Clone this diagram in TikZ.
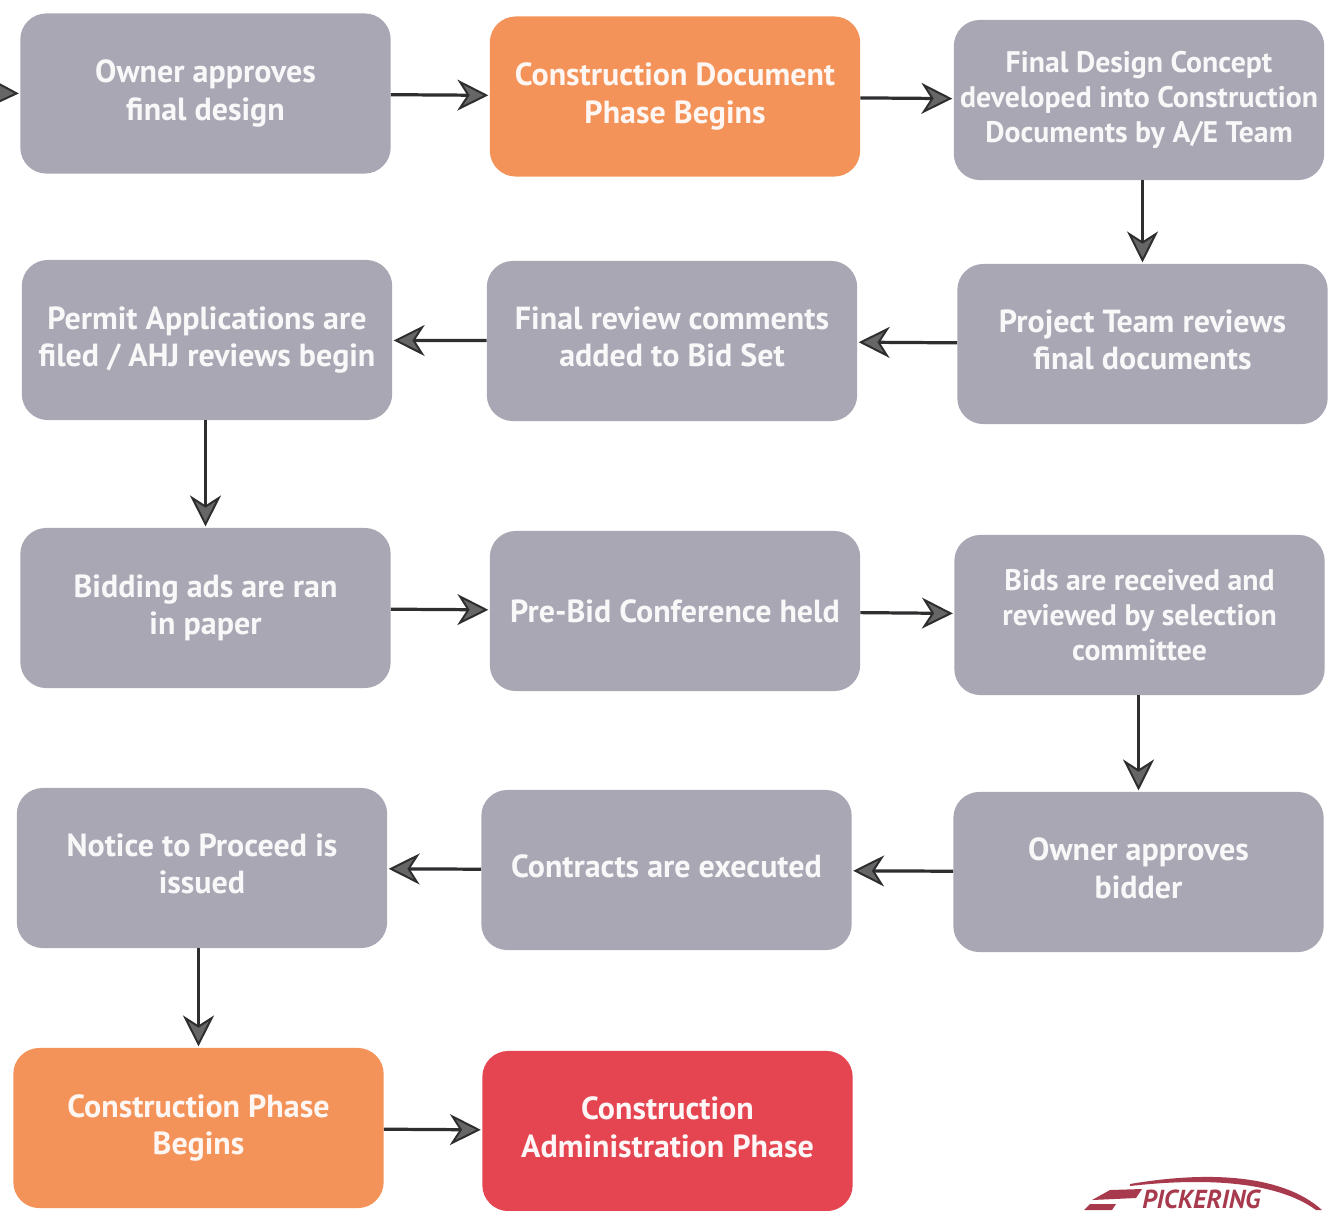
\documentclass[tikz,border=0pt]{standalone}
\usepackage{fontspec}
\setmainfont{PT Sans}
\usetikzlibrary{arrows.meta}
\definecolor{g}{HTML}{A9A7B4}
\definecolor{o}{HTML}{F49359}
\definecolor{r}{HTML}{E44551}
\definecolor{l}{HTML}{A83A4E}
\definecolor{a}{HTML}{2E2E30}
\tikzset{g/.style={fill=g,rectangle,rounded corners=21pt,minimum width=10.5cm,minimum height=4.54cm,inner sep=0pt,
    text=white!92!g,align=center,font=\fontsize{25.8}{30}\selectfont\bfseries},
  g3/.style={g,font=\fontsize{24}{28.4}\selectfont\bfseries},
  o/.style={g,fill=o,text=white!92!o},
  r/.style={g,fill=r,text=white!95!r},
  lift/.style={execute at end node={\rule[-6.5pt]{0pt}{1pt}}},
  to/.style={draw=a,line width=2.6pt,-{Stealth[length=25pt,width=25pt,inset=8pt,fill=gray!80!black,line width=1.6pt]},shorten >=1pt}}

\begin{document}
\begin{tikzpicture}[x=0.02835cm,y=-0.02835cm]
    \clip (0,0) rectangle (1330,1210);
    \useasboundingbox (0,0) rectangle (1330,1210);
    \fill[white] (0,0) rectangle (1330,1210);

    \coordinate (start) at (-30,92);
    \node[g] (approve) at (205.5,93.5) {Owner approves\\final design};
    \node[o] (docphase) at (675,96.5) {Construction Document\\Phase Begins};
    \node[g3] (concept) at (1139,100) {Final Design Concept\\developed into Construction\\Documents by A/E Team};

    \node[g] (permit) at (207,340) {Permit Applications are\\filed / AHJ reviews begin};
    \node[g,lift] (comments) at (672,341) {Final review comments\\added to Bid Set};
    \node[g,lift] (review) at (1142.5,344) {Project Team reviews\\final documents};

    \node[g] (ads) at (205.5,608) {Bidding ads are ran\\in paper};
    \node[g] (prebid) at (675,611) {Pre-Bid Conference held};
    \node[g3] (bids) at (1139.5,615) {Bids are received and\\reviewed by selection\\committee};

    \node[g,lift] (notice) at (202,868) {Notice to Proceed is\\issued};
    \node[g,lift] (contracts) at (666.5,870) {Contracts are executed};
    \node[g,lift] (bidder) at (1138.5,872) {Owner approves\\bidder};

    \node[o] (conphase) at (198.5,1128) {Construction Phase\\Begins};
    \node[r,lift] (admin) at (667.5,1131) {Construction\\Administration Phase};

    \draw[to] (start) -- (approve.west);
    \draw[to] (approve) -- (docphase);
    \draw[to] (docphase) -- (concept);
    \draw[to] (concept.south -| review.north) -- (review.north);
    \draw[to] (review) -- (comments);
    \draw[to] (comments) -- (permit);
    \draw[to] (permit.south -| ads.north) -- (ads.north);
    \draw[to] (ads) -- (prebid);
    \draw[to] (prebid) -- (bids);
    \draw[to] (bids.south -| bidder.north) -- (bidder.north);
    \draw[to] (bidder) -- (contracts);
    \draw[to] (contracts) -- (notice);
    \draw[to] (notice.south -| conphase.north) -- (conphase.north);
    \draw[to] (conphase) -- (admin);

    % logo at the lower edge
    \fill[l] (1130,1184) .. controls (1200,1172) and (1280,1172) .. (1322,1210) -- (1316,1210)
        .. controls (1275,1180) and (1200,1178) .. (1130,1186) -- cycle;
    \fill[l] (1110,1190) -- (1142,1189) -- (1136,1198) -- (1092,1200) -- cycle;
    \fill[l] (1090,1204) -- (1116,1204) -- (1112,1210) -- (1084,1210) -- cycle;
    \node[text=l,font=\fontsize{21}{21}\selectfont\bfseries\itshape,inner sep=0pt,anchor=base west] (logo) at (1142,1208) {PICKERING};
\end{tikzpicture}
\end{document}
